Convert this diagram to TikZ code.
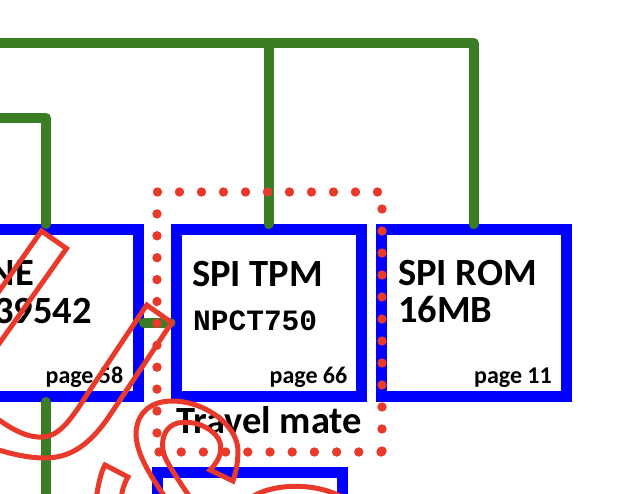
\documentclass[tikz,border=0pt]{standalone}
\usepackage{fontspec}
\setmainfont{Carlito}
\newfontfamily\codefont{Liberation Mono}
\definecolor{boxblue}{RGB}{0,0,255}
\definecolor{wiregreen}{RGB}{58,125,36}
\definecolor{markred}{RGB}{233,57,43}
\begin{document}
\begin{tikzpicture}[x=1pt,y=-1pt,
  chipbox/.style={draw=boxblue,line width=11pt,fill=white,rectangle,minimum width=185pt,minimum height=167pt,inner sep=0pt},
  wire/.style={draw=wiregreen,line width=10pt,line cap=round,line join=round},
  redline/.style={draw=markred,line width=5pt,line join=miter},
  reddot/.style={fill=markred},
  title/.style={font=\bfseries\fontsize{38.5}{38.5}\selectfont,inner sep=0pt},
  codelbl/.style={font=\codefont\bfseries\fontsize{29.5}{29.5}\selectfont,inner sep=0pt,anchor=base west},
  pagelbl/.style={font=\bfseries\fontsize{24}{24}\selectfont,inner sep=0pt,anchor=base east},
]
\useasboundingbox (0,0) rectangle (636,494);
\clip (0,0) rectangle (636,494);
\fill[white] (0,0) rectangle (636,494);

% boxes
\node[chipbox] (leftbox) at (46,313) {};
\node[chipbox] (tpm) at (268.5,313) {};
\node[chipbox] (rom) at (473.5,313) {};
\node[chipbox] (lowbox) at (250,556) {};

% green wires
\coordinate (busL) at (-10,43);
\coordinate (bus2L) at (-10,118);
\draw[wire] (busL) -- (busL -| rom.north) -- (rom.north);
\draw[wire] (busL -| tpm.north) -- (tpm.north);
\draw[wire] (bus2L) -- (bus2L -| leftbox.north) -- (leftbox.north);
\coordinate (lowend) at (46,510);
\draw[wire] (leftbox.south) -- (lowend);
\path (tpm.west) ++(0,9.5) coordinate (tpmin);
\draw[wire] (tpmin -| leftbox.east) -- (tpmin);

% texts
\node[title,anchor=base east] (leftT) at (34,285) {NE};
\node[title,anchor=base east] (leftS) at (92,323) {39542};
\node[pagelbl] (leftPg) at (123.5,383) {page 58};
\node[title,anchor=base west] (tpmT) at (192,286) {SPI TPM};
\node[codelbl] (tpmP) at (193,330) {NPCT750};
\node[pagelbl] (tpmPg) at (347.5,383) {page 66};
\node[title,anchor=base west] (romT) at (398,285.5) {SPI ROM};
\node[title,anchor=base west] (romS) at (398,322) {16MB};
\node[pagelbl] (romPg) at (552,383) {page 11};
\node[font=\bfseries\fontsize{38.5}{38.5}\selectfont,inner sep=0pt,anchor=base west] (travel) at (176,433) {Travel mate};

% red dotted frame
\foreach \i in {0,...,10} {\fill[reddot] (157.5+22*\i,192) circle (4.7);}
\foreach \i in {1,...,11} {\fill[reddot] (157,192+21.9*\i) circle (4.7);}
\foreach \i in {0,...,10} {\fill[reddot] (159+22.2*\i,452) circle (4.7);}
\foreach \i in {0,...,11} {\fill[reddot] (382,209+22*\i) circle (4.7);}

% red hand-drawn marks
\draw[redline] (-5,297) -- (41.5,231) -- (66.5,248.5) -- (-4,348);
\draw[redline] (-5,417) .. controls (15,432) and (30,438) .. (43,437)
  .. controls (60,436) and (72,418) .. (88,393) -- (146.7,305) -- (171.7,322.7)
  -- (110,415) .. controls (90,445) and (70,458) .. (45,458)
  .. controls (28,458) and (12,454) .. (-5,449);
\draw[redline] (167,500) .. controls (150,475) and (137,455) .. (136,435)
  .. controls (136,412) and (152,401) .. (172,401)
  .. controls (205,401) and (237,425) .. (238,450)
  .. controls (238,465) and (235,475) .. (233,481) -- (210,470)
  .. controls (220,460) and (224,448) .. (218,438)
  .. controls (210,426) and (192,420) .. (178,423)
  .. controls (166,426) and (161,437) .. (163,450)
  .. controls (164,458) and (170,467) .. (183,487) -- (192,500);
\draw[redline] (96,500) .. controls (98,485) and (101,472) .. (105,465) -- (128,477)
  .. controls (124,484) and (122,490) .. (121,500);
\draw[redline] (248,500) .. controls (265,485) and (310,480) .. (342,497);
\end{tikzpicture}
\end{document}
